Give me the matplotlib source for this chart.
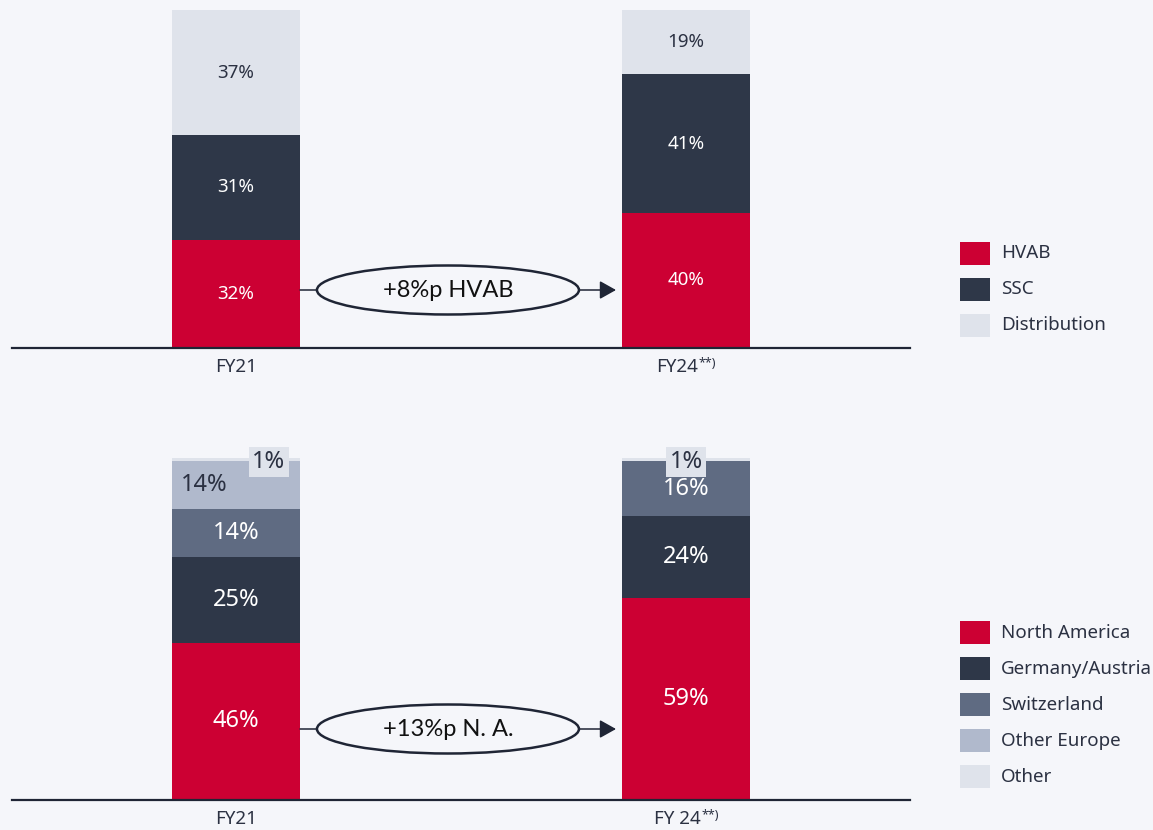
import matplotlib
matplotlib.use('Agg')
import matplotlib.pyplot as plt
from matplotlib.patches import Ellipse, Rectangle
from matplotlib.transforms import ScaledTranslation

# ---- data ----
years_top = ['FY21', 'FY24']
segments_top = ['HVAB', 'SSC', 'Distribution']
hvab = [32, 40]              # FY21, FY24
ssc = [31, 41]
distribution = [37, 19]

years_bottom = ['FY21', 'FY 24']
segments_bottom = ['North America', 'Germany/Austria', 'Switzerland', 'Other Europe', 'Other']
north_america = [46, 59]
germany_austria = [25, 24]
switzerland = [14, 16]
other_europe = [14, 0]
other = [1, 1]

footnote = ['', '**)']       # superscript after the year label
delta_top = '+8%p HVAB'
delta_bottom = '+13%p N. A.'

# ---- styling ----
BG = '#f5f6fa'
RED = '#cc0033'
NAVY = '#2e3748'
SLATE = '#5f6b82'
GREY = '#b0b9cc'
LIGHT = '#dfe3eb'
LINE = '#1f2535'
TEXT = '#2b3142'

W, H = 1153, 830
plt.rcParams['font.family'] = ['Noto Sans', 'DejaVu Sans']

fig = plt.figure(figsize=(W / 100, H / 100), dpi=100)
fig.patch.set_facecolor(BG)

bar_w = 128 / 450
xs = [0, 1]
xlim = ((12 - 236) / 450, (910 - 236) / 450)


def px_axes(left, right, top, bottom):
  return fig.add_axes([left / W, 1 - bottom / H, (right - left) / W, (bottom - top) / H])


def setup(ax, labels):
  ax.set_xlim(*xlim)
  ax.set_ylim(0, 100)
  ax.set_facecolor('none')
  for s in ['top', 'left', 'right']:
    ax.spines[s].set_visible(False)
  ax.spines['bottom'].set_color(LINE)
  ax.spines['bottom'].set_linewidth(1.6)
  ax.spines['bottom'].set_zorder(5)
  ax.set_yticks([])
  ax.set_xticks(xs, labels)
  ax.tick_params(axis='x', length=0, pad=7, labelsize=13.5, labelcolor=TEXT)
  # superscript footnote marks next to the tick labels, whole label kept centred
  for lab, note in zip(ax.get_xticklabels(), footnote):
    if note:
      lab.set_transform(lab.get_transform() + ScaledTranslation(-0.085, 0, fig.dpi_scale_trans))
      ax.annotate(note, xy=(1, 1), xycoords=lab, xytext=(0.3, 0.3),
                  textcoords='offset points', ha='left', va='top',
                  fontsize=9, color=TEXT)


def stack(ax, series, colors, txtcolors, fontsize, label_dx=None):
  bottoms = [0, 0]
  for k, (vals, col, tc) in enumerate(zip(series, colors, txtcolors)):
    ax.bar(xs, vals, width=bar_w, bottom=bottoms, color=col, linewidth=0, zorder=2)
    for i, v in enumerate(vals):
      if v >= 5:
        dx = label_dx[k][i] if label_dx else 0
        ax.text(xs[i] + dx, bottoms[i] + v / 2, '%d%%' % v, ha='center', va='center',
                color=tc, fontsize=fontsize, zorder=4)
    bottoms = [b + v for b, v in zip(bottoms, vals)]
  return bottoms


def delta(ax, yc, height, text):
  x0 = xs[0] + bar_w / 2
  x1 = xs[1] - bar_w / 2 - 6 / 450
  ax.annotate('', xy=(x1, yc), xytext=(x0, yc),
              arrowprops=dict(arrowstyle='-|>,head_length=0.5,head_width=0.28',
                              mutation_scale=20, color=LINE, lw=1.1,
                              shrinkA=0, shrinkB=0), zorder=3)
  ax.add_patch(Ellipse((0.471, yc), 262 / 450, height, facecolor=BG,
                       edgecolor=LINE, lw=1.8, zorder=4))
  ax.text(0.471, yc, text, ha='center', va='center', fontsize=17,
          family=['Lato', 'DejaVu Sans'], color='#111111', zorder=5)


def legend(labels, colors, y0):
  for j, (lab, col) in enumerate(zip(labels, colors)):
    yc = y0 + 36 * j
    fig.add_artist(Rectangle((960 / W, 1 - (yc + 11.5) / H), 30 / W, 23 / H,
                             transform=fig.transFigure, facecolor=col, linewidth=0))
    fig.text(1001 / W, 1 - yc / H, lab, ha='left', va='center', fontsize=13.5, color=TEXT)


# ---- top panel: segment mix ----
ax1 = px_axes(12, 910, 10, 348)
setup(ax1, years_top)
top_colors = [RED, NAVY, LIGHT]
stack(ax1, [hvab, ssc, distribution], top_colors, ['white', 'white', TEXT], 13.5)
delta(ax1, (348 - 290) / 338 * 100, 49 / 338 * 100, delta_top)
legend(segments_top, top_colors, 253.5)

# ---- bottom panel: regional mix ----
ax2 = px_axes(12, 910, 458, 800)
setup(ax2, years_bottom)
bottom_colors = [RED, NAVY, SLATE, GREY, LIGHT]
dx = [[0, 0], [0, 0], [0, 0], [-0.07, 0], [0, 0]]
tops = stack(ax2, [north_america, germany_austria, switzerland, other_europe, other],
             bottom_colors, ['white', 'white', 'white', TEXT, TEXT], 17, dx)
# small "Other" share boxed on top of the bars
other_dx = [0.073, 0]
for i, v in enumerate(other):
  ax2.text(xs[i] + other_dx[i], tops[i] - 1.2, '%d%%' % v, ha='center', va='center',
           fontsize=17, color=TEXT, zorder=6,
           bbox=dict(boxstyle='square,pad=0.14', facecolor=LIGHT, edgecolor='none'))
delta(ax2, (800 - 729) / 342 * 100, 49 / 342 * 100, delta_bottom)
legend(segments_bottom, bottom_colors, 632.5)

fig.savefig('out.png', dpi=100, facecolor=BG)
